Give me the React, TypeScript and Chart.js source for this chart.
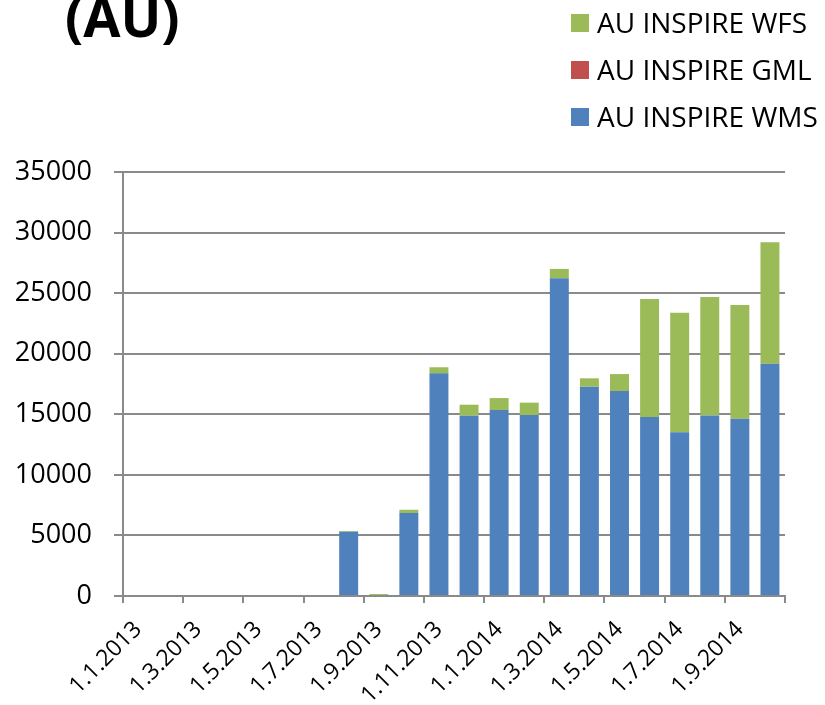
import React, { useEffect, useRef } from "react";
import { Chart, registerables } from "chart.js";

Chart.register(...registerables);

const TITLE = "(AU)";

const categories = [
  "1.1.2013", "1.2.2013", "1.3.2013", "1.4.2013", "1.5.2013", "1.6.2013",
  "1.7.2013", "1.8.2013", "1.9.2013", "1.10.2013", "1.11.2013", "1.12.2013",
  "1.1.2014", "1.2.2014", "1.3.2014", "1.4.2014", "1.5.2014", "1.6.2014",
  "1.7.2014", "1.8.2014", "1.9.2014", "1.10.2014",
];

const wmsValues = [
  0, 0, 0, 0, 0, 0, 0, 5300, 60, 6850, 18380, 14880,
  15350, 14940, 26230, 17280, 16920, 14780, 13510, 14910, 14640, 19180,
];
const gmlValues = [
  0, 0, 0, 0, 0, 0, 0, 0, 0, 0, 0, 0,
  0, 0, 0, 0, 0, 0, 0, 0, 0, 0,
];
const wfsValues = [
  0, 0, 0, 0, 0, 0, 0, 60, 100, 270, 500, 910,
  990, 1020, 770, 690, 1400, 9740, 9880, 9770, 9380, 10020,
];

const yTicks = [0, 5000, 10000, 15000, 20000, 25000, 30000, 35000];

const FONT = "'Open Sans', 'Noto Sans', sans-serif";
const GRID = "#8a8a8a";

const titleLegendPlugin = {
  id: "titleLegend",
  afterDraw(chart: any) {
    const ctx = chart.ctx;
    ctx.save();
    ctx.fillStyle = "#000";
    ctx.font = `bold 54px ${FONT}`;
    ctx.textAlign = "left";
    ctx.textBaseline = "alphabetic";
    ctx.fillText(TITLE, 65, 37);

    const ds = chart.data.datasets.slice().reverse();
    ctx.font = `28px ${FONT}`;
    ctx.textBaseline = "middle";
    ds.forEach((d: any, i: number) => {
      const cy = 23 + i * 47;
      ctx.fillStyle = d.backgroundColor;
      ctx.fillRect(571, cy - 9, 18, 18);
      ctx.fillStyle = "#000";
      ctx.fillText(d.label, 597, cy + 2);
    });
    ctx.restore();
  },
};

export default function App() {
  const ref = useRef<HTMLCanvasElement | null>(null);
  useEffect(() => {
    if (!ref.current) return;
    const chart = new Chart(ref.current, {
      type: "bar",
      data: {
        labels: categories,
        datasets: [
          { label: "AU INSPIRE WMS", data: wmsValues, backgroundColor: "#4F81BD" },
          { label: "AU INSPIRE GML", data: gmlValues, backgroundColor: "#C0504D" },
          { label: "AU INSPIRE WFS", data: wfsValues, backgroundColor: "#9BBB59" },
        ],
      },
      options: {
        animation: false,
        responsive: false,
        maintainAspectRatio: false,
        layout: { padding: { top: 172, right: 40, bottom: 0, left: 0 } },
        plugins: {
          legend: { display: false },
          title: { display: false },
          tooltip: { enabled: false },
        },
        datasets: { bar: { categoryPercentage: 1, barPercentage: 0.63 } },
        scales: {
          x: {
            stacked: true,
            offset: true,
            afterFit: (s: any) => { s.height = 109; },
            grid: {
              offset: true,
              drawOnChartArea: false,
              drawTicks: true,
              tickLength: 7,
              lineWidth: 2,
              tickWidth: 2,
              tickColor: (c: any) => ((c.index ?? 0) % 2 === 0 ? GRID : "rgba(0,0,0,0)"),
              color: GRID,
            },
            border: { display: true, color: GRID, width: 2 },
            ticks: {
              autoSkip: false,
              maxRotation: 45,
              minRotation: 45,
              padding: 13,
              color: "#000",
              font: { family: FONT, size: 23 },
              callback: (_v: any, i: number) => (i % 2 === 0 ? categories[i] : ""),
            },
          },
          y: {
            stacked: true,
            min: 0,
            max: 35000,
            afterFit: (s: any) => { s.width = 123; },
            afterBuildTicks: (s: any) => { s.ticks = yTicks.map((v) => ({ value: v })); },
            grid: {
              color: GRID,
              lineWidth: 2,
              drawTicks: true,
              tickLength: 9,
            },
            border: { display: true, color: GRID, width: 2 },
            ticks: {
              padding: 22,
              color: "#000",
              font: { family: FONT, size: 27 },
              callback: (v: any) => String(v),
            },
          },
        },
      },
      plugins: [titleLegendPlugin],
    });
    return () => chart.destroy();
  }, []);
  return (
    <div style={{ position: "fixed", left: 0, top: 0, width: 825, height: 705, background: "#fff" }}>
      <canvas ref={ref} width={825} height={705} style={{ width: 825, height: 705 }} />
    </div>
  );
}
